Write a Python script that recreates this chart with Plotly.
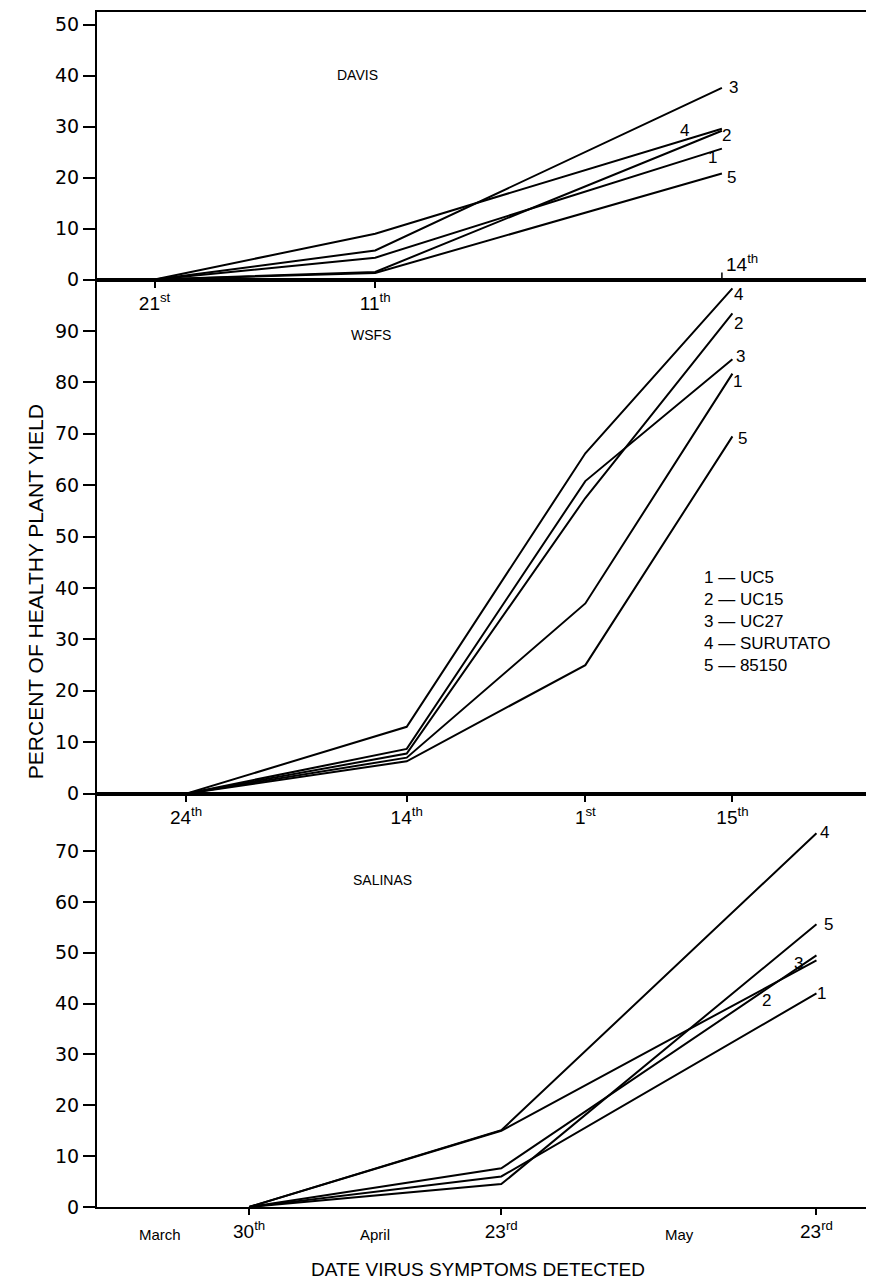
import plotly.graph_objects as go

# ---------------- data ----------------
cultivar_numbers = ["1", "2", "3", "4", "5"]
cultivar_names = ["UC5", "UC15", "UC27", "SURUTATO", "85150"]

davis_dates = ["1987-03-21", "1987-04-11", "1987-05-14"]
davis_uc5 = [0, 4.3, 25.7]
davis_uc15 = [0, 1.5, 29.2]
davis_uc27 = [0, 5.7, 37.6]
davis_surutato = [0, 9.0, 29.6]
davis_85150 = [0, 1.3, 20.8]
davis_tick_labels = ["21<sup>st</sup>", "11<sup>th</sup>", "14<sup>th</sup>"]

wsfs_dates = ["1987-03-24", "1987-04-14", "1987-05-01", "1987-05-15"]
wsfs_uc5 = [0, 7.0, 37.0, 81.7]
wsfs_uc15 = [0, 7.8, 57.5, 93.4]
wsfs_uc27 = [0, 8.7, 60.8, 84.5]
wsfs_surutato = [0, 13.0, 66.2, 98.3]
wsfs_85150 = [0, 6.3, 25.0, 69.5]
wsfs_tick_labels = ["24<sup>th</sup>", "14<sup>th</sup>", "1<sup>st</sup>", "15<sup>th</sup>"]

salinas_dates = ["1987-03-30", "1987-04-23", "1987-05-23"]
salinas_uc5 = [0, 6.0, 42.0]
salinas_uc15 = [0, 7.6, 49.5]
salinas_uc27 = [0, 15.0, 48.5]
salinas_surutato = [0, 15.1, 73.5]
salinas_85150 = [0, 4.5, 55.6]
salinas_tick_labels = ["30<sup>th</sup>", "23<sup>rd</sup>", "23<sup>rd</sup>"]

location_names = ["DAVIS", "WSFS", "SALINAS"]
month_names = ["March", "April", "May"]
month_label_dates = ["1987-03-21 12:00", "1987-04-11", "1987-05-10"]

# ---------------- styling / layout ----------------
# the page body adds an 8 px margin, so the figure is shifted 8 px right/down
W, H = 866, 1277
ML, MR, MT, MB = 89, 5, 2, 78
X_RANGE = ["1987-03-15 12:30", "1987-05-28 00:00"]
LINE_W = 2
FONT = "Liberation Sans"
NUM_FONT = "DejaVu Sans"

panels = [
    dict(name=location_names[0], dates=davis_dates,
         series=[davis_uc5, davis_uc15, davis_uc27, davis_surutato, davis_85150],
         ticks=davis_tick_labels, domain=[0.7761, 1.0], yrange=[0, 52.5], ymax_tick=50,
         label_pos=[0.338, 0.802],
         offsets=[(-9, -9), (5, -5), (12, 0), (-37, -2), (10, -4)]),
    dict(name=location_names[1], dates=wsfs_dates,
         series=[wsfs_uc5, wsfs_uc15, wsfs_uc27, wsfs_surutato, wsfs_85150],
         ticks=wsfs_tick_labels, domain=[0.3459, 0.7761], yrange=[0, 100], ymax_tick=90,
         label_pos=[0.355, 0.911],
         offsets=[(5, -8), (6, -10), (8, 3), (6, -6), (10, -2)]),
    dict(name=location_names[2], dates=salinas_dates,
         series=[salinas_uc5, salinas_uc15, salinas_uc27, salinas_surutato, salinas_85150],
         ticks=salinas_tick_labels, domain=[0.0, 0.3459], yrange=[0, 81.3], ymax_tick=70,
         label_pos=[0.37, 0.766],
         offsets=[(5, 0), (-50, -45), (-18, -3), (8, 1), (12, 0)]),
]

fig = go.Figure()
annotations = []
shapes = []

for i, p in enumerate(panels):
    k = "" if i == 0 else str(i + 1)
    xa, ya = "x" + k, "y" + k
    for j, vals in enumerate(p["series"]):
        fig.add_trace(go.Scatter(
            x=p["dates"], y=vals, mode="lines", name=cultivar_names[j],
            line=dict(color="black", width=LINE_W), xaxis=xa, yaxis=ya,
            showlegend=False))
        dx, dy = p["offsets"][j]
        annotations.append(dict(
            x=p["dates"][-1], y=vals[-1], xref=xa, yref=ya, text=cultivar_numbers[j],
            showarrow=False, xshift=dx, yshift=dy,
            font=dict(family=FONT, size=17, color="black")))
    # location label
    annotations.append(dict(
        x=p["label_pos"][0], y=p["domain"][0] + (p["domain"][1] - p["domain"][0]) * p["label_pos"][1],
        xref="paper", yref="paper", text=p["name"], showarrow=False,
        font=dict(family=FONT, size=14, color="black")))

    tickvals = p["dates"]
    ticktext = p["ticks"]
    if i == 0:
        # last Davis date label is written above the axis line, with an upward tick
        annotations.append(dict(
            x=p["dates"][-1], y=0, xref=xa, yref=ya, text=ticktext[-1],
            showarrow=False, xanchor="left", yanchor="bottom", xshift=2, yshift=3,
            font=dict(family=FONT, size=19, color="black")))
        shapes.append(dict(
            type="line", xref=xa, yref=ya, x0=p["dates"][-1], x1=p["dates"][-1],
            ysizemode="pixel", yanchor=0, y0=0, y1=7,
            line=dict(color="black", width=1.5)))
        tickvals = tickvals[:-1]
        ticktext = ticktext[:-1]

    fig.layout["xaxis" + k] = dict(
        type="date", range=X_RANGE, anchor=ya, domain=[0, 1],
        tickmode="array", tickvals=tickvals, ticktext=ticktext,
        ticks="outside", ticklen=6, tickwidth=1.5, tickcolor="black",
        showline=True, linecolor="black", linewidth=2, mirror=True,
        showgrid=False, zeroline=False,
        tickfont=dict(family=FONT, size=19, color="black"))
    fig.layout["yaxis" + k] = dict(
        range=p["yrange"], domain=p["domain"], anchor=xa,
        tickmode="array", tickvals=list(range(0, p["ymax_tick"] + 1, 10)),
        ticks="outside", ticklen=12, tickwidth=1.5, tickcolor="black",
        showline=True, linecolor="black", linewidth=2, mirror=True,
        showgrid=False, zeroline=False,
        tickfont=dict(family=NUM_FONT, size=19, color="black"))

# legend block
legend_text = "<br>".join(f"{n} — {c}" for n, c in zip(cultivar_numbers, cultivar_names))
annotations.append(dict(
    x=0.7837, y=0.5363, xref="paper", yref="paper", text=legend_text, align="left",
    xanchor="left", yanchor="top", showarrow=False,
    font=dict(family=FONT, size=17, color="black")))

# month names along the bottom axis
for m, d in zip(month_names, month_label_dates):
    annotations.append(dict(
        x=d, y=-0.032, xref="x3", yref="paper", text=m, showarrow=False,
        font=dict(family=FONT, size=15, color="black")))

# axis titles
annotations.append(dict(
    x=-0.097, y=0.515, xref="paper", yref="paper", text="PERCENT OF HEALTHY PLANT YIELD",
    textangle=-90, showarrow=False, font=dict(family=FONT, size=21, color="black")))
annotations.append(dict(
    x=0.4935, y=-0.063, xref="paper", yref="paper", text="DATE VIRUS SYMPTOMS DETECTED",
    showarrow=False, font=dict(family=FONT, size=19, color="black")))

fig.update_layout(
    width=W, height=H, margin=dict(l=ML, r=MR, t=MT, b=MB),
    paper_bgcolor="white", plot_bgcolor="white",
    annotations=annotations, shapes=shapes)

fig.write_html("out.html")
